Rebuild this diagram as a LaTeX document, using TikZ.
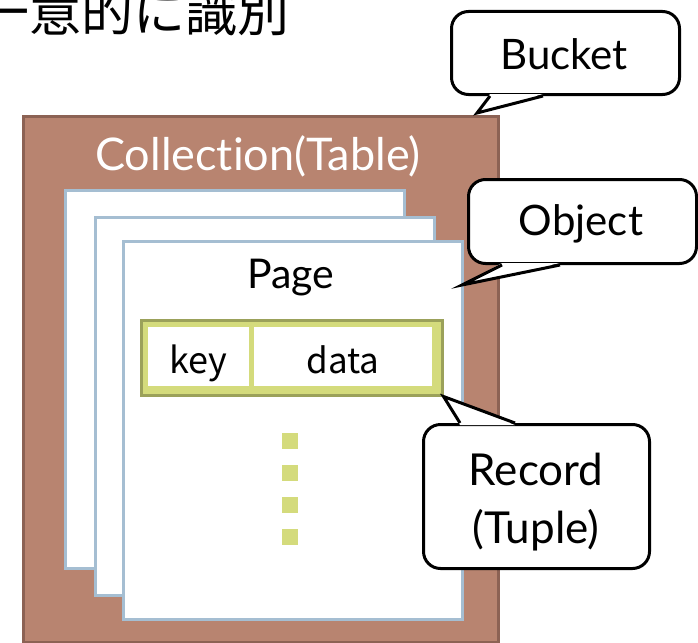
\documentclass[tikz,border=0pt]{standalone}
\usepackage{fontspec}
\setmainfont{Lato}[Ligatures=NoCommon]
\newfontfamily\jp{Noto Sans CJK JP}
\usetikzlibrary{calc}
\definecolor{brownfill}{RGB}{184,132,112}
\definecolor{brownline}{RGB}{140,98,84}
\definecolor{pageblue}{RGB}{165,190,210}
\definecolor{ygreen}{RGB}{212,219,124}
\definecolor{olive}{RGB}{155,161,90}
\tikzset{
  bucketbox/.style={fill=brownfill, draw=brownline, line width=3pt, inner sep=0, anchor=north west},
  pagebox/.style={fill=white, draw=pageblue, line width=3pt, inner sep=0, anchor=north west, minimum width=339pt, minimum height=378pt},
  recbox/.style={fill=ygreen, draw=olive, line width=3pt, inner sep=0, anchor=north west},
  cell/.style={fill=white, inner sep=0, anchor=north west},
  dotbox/.style={fill=ygreen, inner sep=0, minimum size=16pt},
  callout/.style={draw=black, fill=white, line width=3pt, rounded corners=17pt, inner sep=0, anchor=north west},
  tail/.style={draw=black, line width=3pt, line join=miter},
  lbl/.style={inner sep=0, anchor=base, text=black},
}
\begin{document}
\begin{tikzpicture}[x=1pt,y=-1pt]
\clip (0,0) rectangle (698,642);
\fill[white] (0,0) rectangle (698,642);
% title
\node[inner sep=0, anchor=base west, font=\jp\fontsize{52}{52}\selectfont] (title) at (-23,32) {一意的に識別};
% bucket (collection)
\node[bucketbox, minimum width=475pt, minimum height=526pt] (coll) at (21.5,114.5) {};
\node[lbl, text=white, font=\fontsize{45}{45}\selectfont] (colltext) at (258,170) {Collection(Table)};
% pages
\node[pagebox] (page1) at (63.5,188.5) {};
\node[pagebox] (page2) at (93.5,215.5) {};
\node[pagebox] (page3) at (121.5,239.5) {};
\node[lbl, font=\fontsize{41}{41}\selectfont] (pagetext) at (290.5,288) {Page};
% record
\node[recbox, minimum width=301pt, minimum height=75pt] (record) at (139.5,318.5) {};
\node[cell, minimum width=101pt, minimum height=59pt] (key) at (148,327) {};
\node[cell, minimum width=178pt, minimum height=59pt] (data) at (254,327) {};
\node[lbl, font=\jp\fontsize{36}{36}\selectfont] (keytext) at (198.5,373) {key};
\node[lbl, font=\jp\fontsize{35}{35}\selectfont] (datatext) at (343,373) {data};
% dots
\node[dotbox] (d1) at (290,441) {};
\node[dotbox] (d2) at (290,473) {};
\node[dotbox] (d3) at (290,505) {};
\node[dotbox] (d4) at (290,537) {};
% callout Bucket
\node[callout, minimum width=228pt, minimum height=83pt] (bucketcall) at (450,10) {};
\coordinate (btip) at (477,113);
\fill[white] ($(bucketcall.south west)+(40,-2)$) -- (btip) -- ($(bucketcall.south west)+(93,-2)$) -- cycle;
\draw[tail] ($(bucketcall.south west)+(40,0)$) -- (btip) -- ($(bucketcall.south west)+(93,0)$);
\node[lbl, font=\fontsize{42}{42}\selectfont] (buckettext) at (564,70) {Bucket};
% callout Object
\node[callout, minimum width=228pt, minimum height=84pt] (objcall) at (467,178) {};
\coordinate (otip) at (462,285);
\fill[white] ($(objcall.south west)+(35,-2)$) -- (otip) -- ($(objcall.south west)+(93,-2)$) -- cycle;
\draw[tail] ($(objcall.south west)+(35,0)$) -- (otip) -- ($(objcall.south west)+(93,0)$);
\node[lbl, font=\fontsize{42}{42}\selectfont] (objtext) at (581,235) {Object};
% callout Record
\node[callout, minimum width=226pt, minimum height=144pt] (reccall) at (422,423) {};
\coordinate (rtip) at (record.south east);
\fill[white] ($(reccall.north west)+(38,2)$) -- (rtip) -- ($(reccall.north west)+(93,2)$) -- cycle;
\draw[tail] ($(reccall.north west)+(38,0)$) -- (rtip) -- ($(reccall.north west)+(93,0)$);
\node[lbl, font=\fontsize{44}{44}\selectfont] (rectext) at (536,485) {Record};
\node[lbl, font=\fontsize{44}{44}\selectfont] (tupletext) at (536,543) {(Tuple)};
\end{tikzpicture}
\end{document}
